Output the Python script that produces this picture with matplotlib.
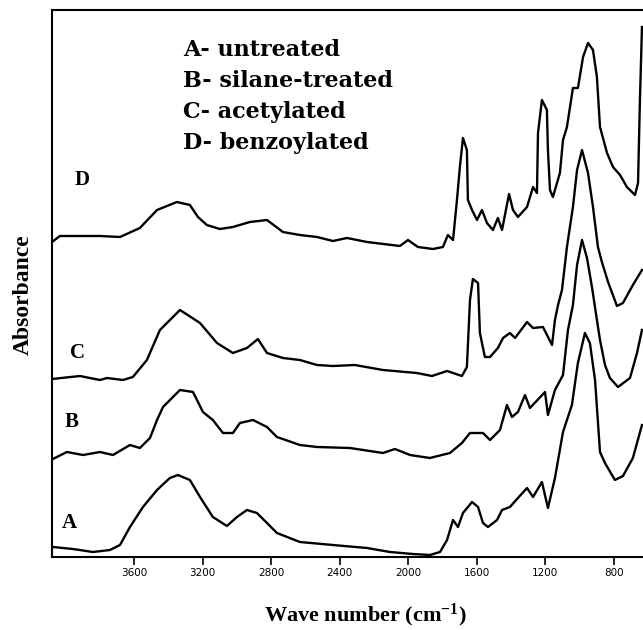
import numpy as np
import matplotlib
matplotlib.use("Agg")
import matplotlib.pyplot as plt

# FTIR spectra (wavenumber in cm-1, absorbance in arbitrary units)
wn_d = [4080, 4034, 3917, 3800, 3683, 3567, 3467, 3351, 3275, 3228, 3176, 3100, 3024, 2925,
        2825, 2732, 2633, 2533, 2440, 2358, 2241, 2049, 2002, 1944, 1856, 1798, 1769, 1739,
        1716, 1699, 1681, 1658, 1652, 1628, 1599, 1570, 1541, 1506, 1477, 1453, 1412, 1389,
        1360, 1307, 1272, 1249, 1243, 1220, 1191, 1185, 1173, 1156, 1115, 1097, 1074, 1039,
        1010, 980, 951, 922, 899, 881, 840, 805, 764, 724, 677, 659, 648, 636]
abs_d = [3.15, 3.21, 3.21, 3.21, 3.20, 3.29, 3.47, 3.55, 3.52, 3.40, 3.32, 3.28, 3.30, 3.35,
         3.37, 3.25, 3.22, 3.20, 3.16, 3.19, 3.15, 3.11, 3.17, 3.10, 3.08, 3.10, 3.22, 3.17,
         3.57, 3.90, 4.19, 4.07, 3.57, 3.47, 3.37, 3.47, 3.34, 3.27, 3.39, 3.27, 3.63, 3.47,
         3.40, 3.50, 3.70, 3.64, 4.24, 4.57, 4.47, 4.07, 3.67, 3.60, 3.84, 4.17, 4.30, 4.69,
         4.69, 5.00, 5.14, 5.07, 4.80, 4.30, 4.04, 3.90, 3.82, 3.70, 3.62, 3.74, 4.57, 5.30]

wn_c = [4080, 3917, 3800, 3759, 3666, 3608, 3526, 3450, 3333, 3216, 3117, 3024, 2942, 2878,
        2825, 2732, 2633, 2533, 2440, 2312, 2148, 1950, 1862, 1774, 1687, 1658, 1640, 1623,
        1593, 1582, 1553, 1523, 1477, 1447, 1407, 1377, 1307, 1272, 1214, 1161, 1144, 1126,
        1103, 1074, 1039, 1015, 986, 951, 922, 893, 870, 834, 782, 747, 689, 636]
abs_c = [1.78, 1.81, 1.77, 1.79, 1.77, 1.80, 1.97, 2.27, 2.47, 2.34, 2.14, 2.04, 2.09, 2.18,
         2.04, 1.99, 1.97, 1.92, 1.91, 1.92, 1.87, 1.84, 1.81, 1.86, 1.81, 1.90, 2.57, 2.78,
         2.74, 2.24, 2.00, 2.00, 2.09, 2.19, 2.24, 2.19, 2.35, 2.29, 2.30, 2.12, 2.37, 2.52,
         2.67, 3.10, 3.50, 3.87, 4.07, 3.84, 3.50, 3.10, 2.95, 2.75, 2.51, 2.54, 2.72, 2.87]

wn_b = [4075, 3993, 3899, 3800, 3724, 3625, 3567, 3508, 3467, 3432, 3374, 3333, 3257, 3199,
        3141, 3082, 3024, 2983, 2907, 2825, 2767, 2633, 2533, 2341, 2148, 2078, 1990, 1874,
        1757, 1687, 1640, 1564, 1523, 1465, 1424, 1395, 1360, 1319, 1290, 1202, 1185, 1144,
        1097, 1068, 1039, 1015, 986, 957, 928, 899, 881, 852, 823, 776, 706, 665, 636]
abs_b = [0.98, 1.05, 1.02, 1.05, 1.02, 1.12, 1.09, 1.19, 1.37, 1.50, 1.60, 1.67, 1.65, 1.45,
         1.37, 1.24, 1.24, 1.34, 1.37, 1.30, 1.20, 1.12, 1.10, 1.09, 1.04, 1.08, 1.02, 0.99,
         1.04, 1.14, 1.24, 1.24, 1.17, 1.27, 1.52, 1.40, 1.45, 1.62, 1.49, 1.65, 1.42, 1.67,
         1.82, 2.27, 2.52, 2.92, 3.17, 2.99, 2.70, 2.37, 2.17, 1.92, 1.79, 1.70, 1.79, 2.04, 2.27]

wn_a = [4075, 3958, 3841, 3742, 3683, 3625, 3549, 3467, 3392, 3345, 3275, 3216, 3141, 3059,
        3000, 2942, 2884, 2825, 2767, 2633, 2440, 2241, 2107, 1973, 1874, 1815, 1774, 1739,
        1710, 1681, 1628, 1593, 1564, 1535, 1482, 1453, 1407, 1360, 1307, 1272, 1220, 1185,
        1144, 1097, 1045, 1010, 969, 940, 910, 881, 852, 794, 747, 689, 636]
abs_a = [0.10, 0.08, 0.05, 0.07, 0.12, 0.30, 0.50, 0.67, 0.79, 0.82, 0.77, 0.60, 0.40, 0.31,
         0.40, 0.47, 0.44, 0.34, 0.24, 0.15, 0.12, 0.09, 0.05, 0.03, 0.02, 0.05, 0.17, 0.37,
         0.30, 0.44, 0.55, 0.50, 0.34, 0.30, 0.37, 0.47, 0.50, 0.59, 0.69, 0.60, 0.75, 0.49,
         0.79, 1.25, 1.52, 1.94, 2.24, 2.14, 1.77, 1.05, 0.94, 0.77, 0.81, 0.99, 1.32]

curve_letters = ["A", "B", "C", "D"]
# where each curve letter sits (wavenumber, absorbance)
letter_wn = [4020, 4005, 3975, 3946]
letter_abs = [0.34, 1.35, 2.04, 3.77]

legend_lines = ["A- untreated", "B- silane-treated", "C- acetylated", "D- benzoylated"]
xticks = [3600, 3200, 2800, 2400, 2000, 1600, 1200, 800]

plt.rcParams["mathtext.fontset"] = "custom"
plt.rcParams["mathtext.rm"] = "Liberation Serif:bold"
plt.rcParams["mathtext.default"] = "rm"

fig = plt.figure(figsize=(6.43, 6.30), dpi=100)
ax = fig.add_axes([52 / 643, 73 / 630, 591 / 643, 547 / 630])

for wn, ab in [(wn_a, abs_a), (wn_b, abs_b), (wn_c, abs_c), (wn_d, abs_d)]:
    ax.plot(wn, ab, "-", color="black", lw=1.7)

ax.set_xlim(4080, 630)
ax.set_ylim(0, 5.47)

ax.set_xticks(xticks)
ax.set_xticklabels([str(t) for t in xticks], fontsize=7.5, family="DejaVu Sans")
ax.tick_params(axis="x", direction="out", length=6, width=1.2, pad=2)
ax.set_yticks([])

ax.spines["right"].set_visible(False)
for s in ["left", "top", "bottom"]:
    ax.spines[s].set_linewidth(1.5)

for lab, xw, ya in zip(curve_letters, letter_wn, letter_abs):
    ax.text(xw, ya, lab, fontsize=15, fontweight="bold", family="Liberation Serif",
            ha="left", va="center")

for i, line in enumerate(legend_lines):
    fig.text(183 / 643, 1 - (50 + 31 * i) / 630, line, fontsize=16, fontweight="bold",
             family="DejaVu Serif", ha="left", va="center")

fig.text(23 / 643, 1 - 295 / 630, "Absorbance", rotation=90, fontsize=17,
         fontweight="bold", family="Liberation Serif", ha="center", va="center")
fig.text(365 / 643, 1 - 615 / 630, "Wave number (cm$^{-1}$)", fontsize=16,
         fontweight="bold", family="Liberation Serif", ha="center", va="center")

fig.savefig("out.png", dpi=100)
